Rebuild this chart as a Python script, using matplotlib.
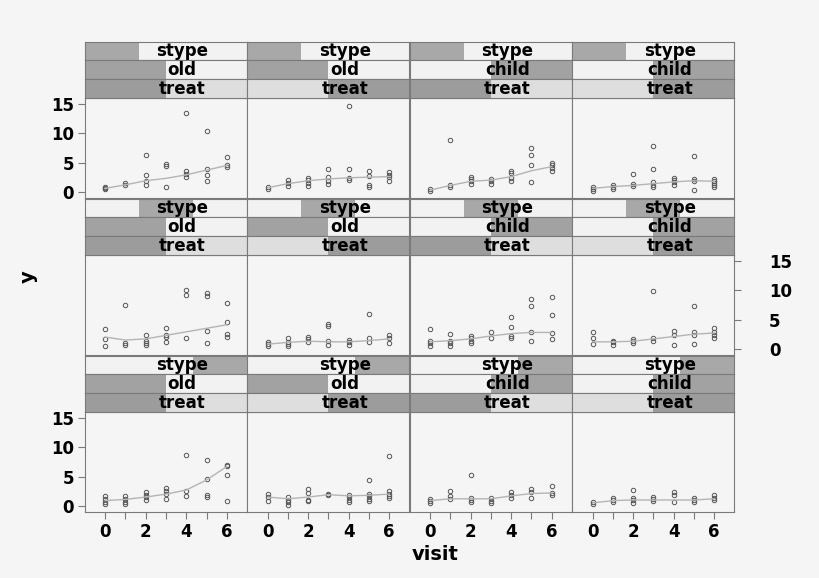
import matplotlib
matplotlib.use("Agg")
import matplotlib.pyplot as plt
from matplotlib.patches import Rectangle

# ---------------- data ----------------
visits = [0, 1, 2, 3, 4, 5, 6]
x_tick_labels = ["0", "", "2", "", "4", "", "6"]
y_ticks = [0, 5, 10, 15]
y_tick_labels = ["0", "5", "10", "15"]

strip1_name = "stype"
strip2_levels = ["old", "child"]
strip3_name = "treat"
x_label = "visit"
y_label = "y"

# observed values, one list per visit (row = strip1 level, col = strip2/strip3 combination)
p11 = [[0.9, 0.6, 0.5], [1.5, 1.1], [6.3, 2.9, 1.9, 1.1], [4.8, 4.4, 0.9],
       [13.4, 3.5, 3.0, 2.6], [10.4, 3.9, 2.8, 1.9], [5.9, 4.6, 4.3]]
p12 = [[0.9, 0.5], [2.0, 1.5, 1.0], [2.4, 2.0, 1.5, 1.0], [3.9, 2.6, 1.8, 1.4],
       [14.6, 3.9, 2.3, 2.0], [3.6, 2.7, 1.2, 0.9], [3.3, 2.9, 2.5, 1.9]]
p13 = [[0.5, 0.2], [8.8, 1.2, 0.9], [2.5, 2.2, 1.8, 1.4], [2.2, 1.8, 1.4],
       [3.6, 3.2, 2.3, 1.8], [7.4, 6.2, 4.5, 1.6], [4.9, 4.5, 4.0, 3.6]]
p14 = [[0.9, 0.5, 0.2], [1.2, 0.8, 0.4], [3.1, 1.3, 1.0], [7.8, 3.9, 1.6, 1.2, 0.8],
       [2.4, 2.0, 1.6, 1.2], [6.1, 2.2, 1.8, 0.3], [2.2, 1.9, 1.5, 1.1, 0.8]]
p21 = [[3.4, 1.7, 0.5], [7.4, 1.0, 0.6], [2.3, 1.4, 1.0, 0.6], [3.5, 2.3, 2.0, 1.2],
       [10.1, 9.1, 1.8], [9.5, 9.0, 3.0, 1.0], [7.8, 4.5, 2.6, 2.1]]
p22 = [[1.2, 0.8, 0.5], [1.8, 1.2, 0.8, 0.5], [2.1, 1.7, 1.2], [4.3, 3.9, 1.4, 0.7],
       [1.5, 1.1, 0.7], [6.0, 1.9, 1.2], [2.3, 1.8, 1.0]]
p23 = [[3.4, 1.4, 1.0, 0.4], [2.5, 1.4, 1.0, 0.4], [2.2, 1.8, 1.4, 1.0], [2.9, 1.9],
       [5.4, 3.8, 2.2, 1.8], [8.5, 7.3, 2.8, 1.4], [8.9, 5.7, 2.7, 1.6]]
p24 = [[2.8, 1.9, 0.9], [1.4, 1.1, 0.7], [1.7, 1.4, 1.0], [9.8, 1.8, 1.4],
       [3.0, 2.3, 0.7], [7.3, 2.8, 2.3, 0.9], [3.5, 2.8, 2.3, 1.9]]
p31 = [[1.6, 1.2, 0.7, 0.3], [1.6, 1.2, 0.7, 0.3], [2.3, 1.8, 1.5, 1.0], [3.0, 2.6, 2.1, 1.2],
       [8.7, 2.6, 1.7], [7.8, 4.5, 1.8, 1.5], [7.0, 6.8, 5.2, 0.9]]
p32 = [[2.0, 1.5, 0.9], [1.5, 1.0, 0.6, 0.2], [2.8, 2.2, 1.0, 0.9], [2.1, 1.8],
       [1.8, 1.5, 1.0, 0.6], [4.4, 2.0, 1.6, 1.2, 0.8], [8.5, 2.5, 2.1, 1.7, 1.4]]
p33 = [[1.1, 0.8, 0.5], [2.6, 1.7, 1.2], [5.2, 1.4, 1.0, 0.7], [1.3, 0.9, 0.5],
       [2.3, 1.8, 1.3], [2.9, 2.3, 1.4], [3.3, 2.2, 1.8]]
p34 = [[0.7, 0.3], [1.4, 1.0, 0.6], [2.7, 1.4, 1.0, 0.5], [1.5, 1.2, 0.8],
       [2.3, 1.9, 0.7], [1.3, 1.0, 0.6], [1.8, 1.4, 1.0]]

# smooth (loess-like) curve values read at each visit
f11 = [0.6, 1.2, 1.9, 2.3, 2.9, 3.7, 4.5]
f12 = [0.7, 1.4, 1.9, 2.2, 2.4, 2.5, 2.6]
f13 = [0.3, 1.1, 1.8, 2.0, 2.6, 3.6, 4.3]
f14 = [0.6, 0.9, 1.1, 1.4, 1.7, 1.9, 1.8]
f21 = [2.0, 1.5, 1.7, 2.3, 2.9, 3.5, 4.1]
f22 = [0.8, 1.1, 1.3, 1.2, 1.2, 1.4, 1.7]
f23 = [1.2, 1.4, 1.7, 2.2, 2.6, 2.8, 2.8]
f24 = [1.2, 1.2, 1.3, 1.7, 2.1, 2.5, 2.7]
f31 = [0.9, 1.1, 1.5, 2.0, 2.7, 4.4, 6.7]
f32 = [1.5, 1.2, 1.5, 1.9, 1.7, 1.8, 2.0]
f33 = [0.9, 1.2, 1.2, 1.2, 1.7, 2.1, 2.2]
f34 = [0.5, 0.9, 1.0, 1.0, 1.0, 1.0, 1.2]

points = [[p11, p12, p13, p14], [p21, p22, p23, p24], [p31, p32, p33, p34]]
fits = [[f11, f12, f13, f14], [f21, f22, f23, f24], [f31, f32, f33, f34]]

# ---------------- layout ----------------
W, H = 820, 578
BG = "#f5f5f5"
EDGE = "#7a7a7a"
fig = plt.figure(figsize=(W / 100, H / 100), dpi=100, facecolor=BG)

def fax(x0, y0, w, h):
    return fig.add_axes([x0 / W, 1 - (y0 + h) / H, w / W, h / H])

col_left = [85, 247.5, 410, 572.5]
col_w = 162
panel_top = [98, 255, 412]
panel_h = 100
strip_h = 18.8

strip_light = ["#f2f2f2", "#f2f2f2", "#dedede"]
strip_dark = ["#a8a8a8", "#a2a2a2", "#9c9c9c"]

for r in range(3):
    for c in range(4):
        x0 = col_left[c]
        ax = fax(x0, panel_top[r], col_w, panel_h)
        ax.set_facecolor(BG)
        ys = points[r][c]
        for v, vals in zip(visits, ys):
            ax.plot([v] * len(vals), vals, linestyle="none", marker="o",
                    markersize=3.2, markerfacecolor="none",
                    markeredgecolor="#555555", markeredgewidth=0.7)
        ax.plot(visits, fits[r][c], color="#b4b4b4", lw=1.0)
        ax.set_xlim(-1, 7)
        ax.set_ylim(-1.05, 16.0)
        for s in ax.spines.values():
            s.set_color(EDGE)
            s.set_linewidth(0.8)
        # x axis only on bottom row
        if r == 2:
            ax.set_xticks(visits)
            ax.set_xticklabels(x_tick_labels, fontsize=12, fontweight="bold")
            ax.tick_params(axis="x", direction="out", length=5, color=EDGE, pad=3)
        else:
            ax.set_xticks([])
        # y axis: left on rows 1 and 3 (first column), right on row 2 (last column)
        ax.set_yticks(y_ticks)
        if r in (0, 2) and c == 0:
            ax.set_yticklabels(y_tick_labels, fontsize=12, fontweight="bold")
            ax.tick_params(axis="y", direction="out", length=5, color=EDGE, pad=3)
        elif r == 1 and c == 3:
            ax.yaxis.tick_right()
            ax.set_yticklabels(y_tick_labels, fontsize=12, fontweight="bold")
            ax.tick_params(axis="y", direction="out", length=5, color=EDGE, pad=20)
        else:
            ax.tick_params(axis="y", length=0, labelleft=False, labelright=False)

        # strips: top = strip1 (3 levels), middle = strip2 (2 levels), bottom = strip3 (2 levels)
        lev = [(r, 3), (c // 2, 2), (c % 2, 2)]
        texts = [strip1_name, strip2_levels[c // 2], strip3_name]
        for k in range(3):
            sy = panel_top[r] - (3 - k) * strip_h
            sax = fax(x0, sy, col_w, strip_h)
            sax.set_facecolor(strip_light[k])
            sax.set_xlim(0, 1)
            sax.set_ylim(0, 1)
            sax.set_xticks([])
            sax.set_yticks([])
            li, n = lev[k]
            sax.add_patch(Rectangle((li / n, 0), 1 / n, 1, facecolor=strip_dark[k],
                                    edgecolor="none"))
            sax.text(0.6, 0.48, texts[k], ha="center", va="center", fontsize=12,
                     fontweight="bold", color="black")
            for s in sax.spines.values():
                s.set_color(EDGE)
                s.set_linewidth(0.8)

fig.text(435 / W, 1 - 555 / H, x_label, ha="center", va="center",
         fontsize=14, fontweight="bold")
fig.text(28 / W, 1 - 277 / H, y_label, ha="center", va="center",
         fontsize=14, fontweight="bold", rotation=90)

fig.savefig("out.png", dpi=100, facecolor=BG)
